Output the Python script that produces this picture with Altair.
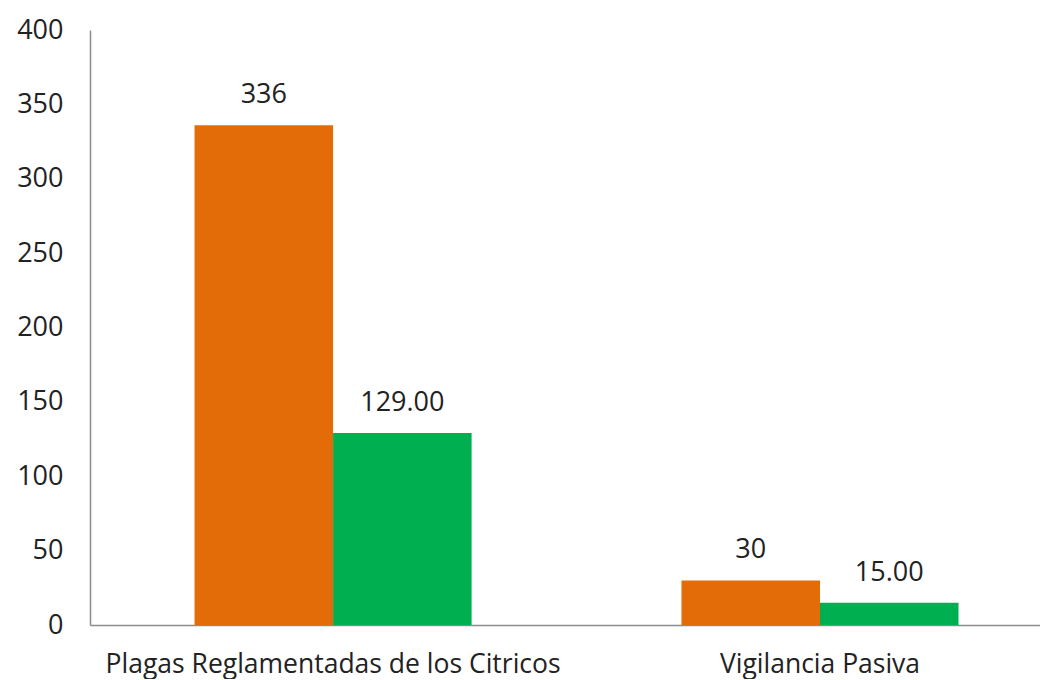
import altair as alt
import pandas as pd

categories = ["Plagas Reglamentadas de los Citricos", "Vigilancia Pasiva"]
series = ["Serie 1", "Serie 2"]
values_s1 = [336, 30]
values_s2 = [129.00, 15.00]
labels_s1 = ["336", "30"]
labels_s2 = ["129.00", "15.00"]
colors = ["#E36C09", "#00B050"]

rows = []
for i, c in enumerate(categories):
    rows.append({"cat": c, "serie": series[0], "value": values_s1[i], "label": labels_s1[i]})
    rows.append({"cat": c, "serie": series[1], "value": values_s2[i], "label": labels_s2[i]})
df = pd.DataFrame(rows)

FONT = "Open Sans"
FS = 27

base = alt.Chart(df).encode(
    x=alt.X("cat:N", sort=categories, title=None,
            scale=alt.Scale(paddingInner=0.431, paddingOuter=0.191, align=0.562),
            axis=alt.Axis(labelAngle=0, ticks=False, labelPadding=26, labelFontSize=26.5,
                          labelLimit=0, labelFont=FONT, labelColor="#222222",
                          domainColor="#8c8c8c", domainWidth=1.5)),
    xOffset=alt.XOffset("serie:N", sort=series, scale=alt.Scale(paddingInner=0, paddingOuter=0)),
)

bars = base.mark_bar().encode(
    y=alt.Y("value:Q", title=None,
            scale=alt.Scale(domain=[0, 400]),
            axis=alt.Axis(values=[0, 50, 100, 150, 200, 250, 300, 350, 400], grid=False,
                          ticks=False, labelPadding=27, labelFontSize=FS, labelFont=FONT,
                          labelColor="#222222", domainColor="#8c8c8c", domainWidth=1.5)),
    color=alt.Color("serie:N", sort=series, scale=alt.Scale(domain=series, range=colors), legend=None),
)

text = base.mark_text(baseline="alphabetic", dy=-22, fontSize=FS, font=FONT, color="#222222").encode(
    y=alt.Y("value:Q"),
    text="label:N",
)

chart = alt.layer(bars, text).properties(
    width=950, height=595,
    autosize=alt.AutoSizeParams(type="none"),
    padding={"left": 82, "top": 22, "right": 0, "bottom": 54},
).configure_view(stroke=None)

chart.save("out.html", embed_options={"renderer": "svg", "actions": False})
